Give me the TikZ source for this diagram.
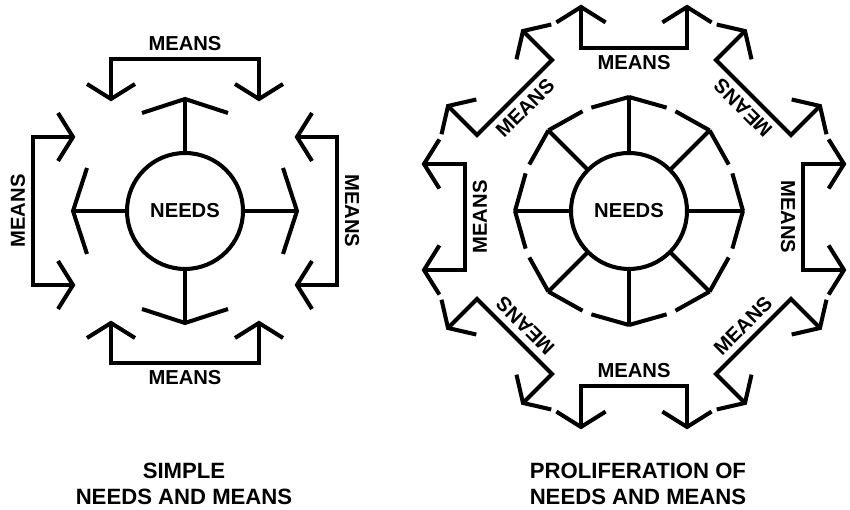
\documentclass[tikz,border=0pt]{standalone}
\usepackage{fontspec}
\setmainfont{Liberation Sans}

\begin{document}
\begin{tikzpicture}[x=0.02cm,y=0.02cm,line width=2.3pt,
  lbl/.style={font=\fontsize{11.5pt}{13pt}\selectfont\bfseries,inner sep=0pt},
  capt/.style={font=\fontsize{12.6pt}{14.8pt}\selectfont\bfseries,align=center,inner sep=0pt,anchor=north},
  hub/.style={circle,draw,line width=2.3pt,minimum size=2.32cm,inner sep=0pt,outer sep=0pt,
    font=\fontsize{11.5pt}{13pt}\selectfont\bfseries}]

\useasboundingbox (0,0) rectangle (850,510);

% simple needs and means
\coordinate (L) at (185,299);
\node[hub] (needsL) at (L) {NEEDS};

\foreach \r/\t in {0/90,90/180,180/270,270/0}
{
\begin{scope}[shift={(L)},rotate=\r]
\draw (needsL.\t) -- (0,112);
\draw (-43,98) -- (0,112) -- (43,98);
\draw (-74,112) -- (-74,152) -- (74,152) -- (74,112);
\draw (-98,127) -- (-74,112) -- (-50,127);
\draw (50,127) -- (74,112) -- (98,127);
\end{scope}
}

\foreach \t/\rot [count=\i] in {90/0,180/90,270/0,0/-90}
{
\node[lbl,rotate=\rot] (meansL\i) at ([shift={(\t:167)}]L) {MEANS};
}

% proliferation of needs and means
\coordinate (Ri) at (629,299);
\coordinate (Ro) at (634,293);
\node[hub] (needsR) at (Ri) {NEEDS};

\foreach \r/\t in {0/90,45/135,90/180,135/225,180/270,225/315,270/0,315/45}
{
\begin{scope}[shift={(Ri)},rotate=\r]
\draw (needsR.\t) -- (90:114);
\draw (90:114) -- (110:110) (115:110) -- (135:114);
\end{scope}
\begin{scope}[shift={(Ro)},rotate=\r]
\draw (-53,210) -- (-53,169) -- (53,169) -- (53,210);
\draw (-77.6,194.6) -- (-53,210) -- (-28.4,194.6);
\draw (28.4,194.6) -- (53,210) -- (77.6,194.6);
\end{scope}
}

\foreach \t/\rot [count=\i] in {90/0,135/45,180/90,225/135,270/0,315/45,0/-90,45/135}
{
\node[lbl,rotate=\rot] (meansR\i) at ([shift={(\t:154)}]Ro) {MEANS};
}

\node[capt] (capL) at (184,49) {SIMPLE\\NEEDS AND MEANS};
\node[capt] (capR) at (638,49) {PROLIFERATION OF\\NEEDS AND MEANS};
\end{tikzpicture}
\end{document}
